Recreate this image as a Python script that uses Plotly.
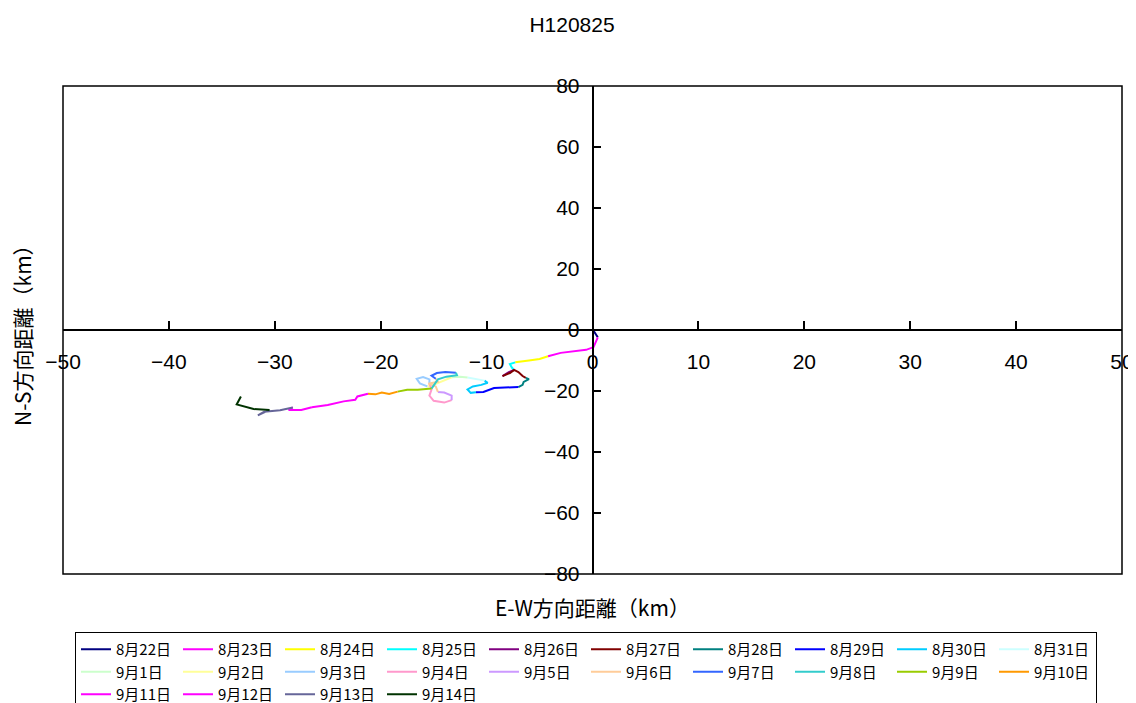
import plotly.graph_objects as go

days = ["8月22日", "8月23日", "8月24日", "8月25日", "8月26日", "8月27日", "8月28日", "8月29日",
        "8月30日", "8月31日", "9月1日", "9月2日", "9月3日", "9月4日", "9月5日", "9月6日",
        "9月7日", "9月8日", "9月9日", "9月10日", "9月11日", "9月12日", "9月13日", "9月14日"]

colors = ["#000080", "#FF00FF", "#FFFF00", "#00FFFF", "#800080", "#800000", "#008080", "#0000FF",
          "#00CCFF", "#CCFFFF", "#CCFFCC", "#FFFF99", "#99CCFF", "#FF99CC", "#CC99FF", "#FFCC99",
          "#3366FF", "#33CCCC", "#99CC00", "#FF9900", "#FF00FF", "#FF00FF", "#666699", "#003300"]

# daily E-W (km) positions
ew = [
    [0.0, 0.2, 0.5],
    [0.5, 0.3, 0.1, -0.6, -1.8, -3.0, -4.2],
    [-4.2, -5.0, -6.0, -7.3],
    [-7.3, -7.8, -7.6, -7.4],
    [-7.4, -7.9, -8.5],
    [-8.5, -7.8, -7.4, -7.0, -6.6, -6.3],
    [-6.3, -6.0, -6.5, -6.6, -7.0],
    [-7.0, -8.5, -9.3, -10.3, -11.0],
    [-11.0, -11.5, -11.8, -11.3, -10.5, -9.9, -10.2],
    [-10.2, -11.0, -11.8],
    [-11.8, -12.5, -13.3],
    [-13.3, -14.2, -15.0, -15.6],
    [-15.6, -16.3, -16.6, -16.0, -15.4, -15.4],
    [-15.4, -15.2, -15.4, -15.0, -14.0, -13.3],
    [-13.3, -13.3, -14.0, -14.6],
    [-14.6, -14.8, -15.5, -14.6, -14.8],
    [-14.8, -15.2, -14.7, -13.9, -12.9],
    [-12.9, -12.8, -13.8, -14.6, -15.2],
    [-15.2, -16.5, -17.5, -18.4],
    [-18.4, -19.2, -19.9, -20.5, -21.2],
    [-21.2, -22.2, -22.4, -23.5, -25.0, -26.5],
    [-26.5, -27.5, -28.7, -28.3],
    [-28.3, -29.5, -31.0, -31.6, -30.5],
    [-30.5, -32.0, -33.6, -33.2],
]
# daily N-S (km) positions
ns = [
    [0.0, -0.8, -2.4],
    [-2.4, -3.8, -5.6, -6.5, -7.1, -7.5, -8.6],
    [-8.6, -9.5, -10.0, -10.6],
    [-10.6, -11.2, -12.4, -13.1],
    [-13.1, -13.8, -15.1],
    [-15.1, -14.1, -13.1, -13.8, -15.1, -15.7],
    [-15.7, -16.1, -17.0, -18.0, -18.7],
    [-18.7, -18.8, -19.0, -20.3, -20.4],
    [-20.4, -20.6, -19.5, -18.5, -18.0, -17.3, -16.6],
    [-16.6, -16.0, -15.6],
    [-15.6, -15.3, -15.5],
    [-15.5, -16.8, -18.0, -18.5],
    [-18.5, -17.5, -16.0, -15.4, -16.2, -17.5],
    [-17.5, -19.5, -21.5, -23.2, -23.8, -23.0],
    [-23.0, -21.5, -20.5, -20.3],
    [-20.3, -18.5, -17.6, -17.0, -16.0],
    [-16.0, -15.0, -14.1, -13.8, -14.0],
    [-14.0, -14.8, -15.3, -16.2, -19.2],
    [-19.2, -19.6, -19.6, -20.2],
    [-20.2, -21.0, -20.5, -21.1, -20.9],
    [-20.9, -21.8, -22.9, -23.4, -24.6, -25.3],
    [-25.3, -26.2, -26.2, -25.4],
    [-25.4, -26.3, -26.8, -28.0, -26.2],
    [-26.2, -25.9, -24.4, -21.8],
]

font_main = "Liberation Sans, Arial, Noto Sans CJK JP, sans-serif"
font_jp = "Noto Sans CJK JP, Liberation Sans, sans-serif"

# the page body adds an 8px offset; the figure is sized to fill the rest
W, H = 1128, 695
ML, MR, MT, MB = 55, 14, 78, 129
PW, PH = W - ML - MR, H - MT - MB

fig = go.Figure()
for name, col, xs, ys in zip(days, colors, ew, ns):
    fig.add_trace(go.Scatter(x=xs, y=ys, mode="lines", name=name,
                             line=dict(color=col, width=2)))

fig.update_layout(
    width=W, height=H,
    paper_bgcolor="white", plot_bgcolor="white",
    margin=dict(l=ML, r=MR, t=MT, b=MB, autoexpand=False),
    title=dict(text="H120825", x=0.5, xanchor="center", y=1 - 17 / H, yanchor="middle",
               font=dict(family=font_main, size=21, color="black")),
    xaxis=dict(range=[-50, 50], dtick=10, anchor="free", position=0.5,
               showgrid=False, zeroline=False, showline=True, linecolor="black", linewidth=1.5,
               ticks="inside", ticklen=8, tickcolor="black", tickwidth=1.5,
               ticklabelstandoff=13,
               tickfont=dict(family=font_main, size=21, color="black")),
    yaxis=dict(range=[-80, 80], dtick=20, anchor="free", position=0.5,
               showgrid=False, zeroline=False, showline=True, linecolor="black", linewidth=1.5,
               ticks="inside", ticklen=8, tickcolor="black", tickwidth=1.5,
               ticklabelstandoff=8,
               tickfont=dict(family=font_main, size=21, color="black")),
    legend=dict(orientation="h", x=12 / PW, xanchor="left", y=-(624 - 566) / PH, yanchor="top",
                bordercolor="black", borderwidth=1, bgcolor="white",
                entrywidth=57, entrywidthmode="pixels", tracegroupgap=0,
                font=dict(family=font_jp, size=15, color="black")),
    showlegend=True,
)

fig.add_shape(type="rect", xref="paper", yref="paper", x0=0, x1=1, y0=0, y1=1,
              line=dict(color="black", width=1.5), layer="above")

fig.add_annotation(text="E-W方向距離（km）", xref="paper", yref="paper", x=0.5, y=-33 / PH,
                   xanchor="center", yanchor="middle", showarrow=False,
                   font=dict(family=font_jp, size=21, color="black"))
fig.add_annotation(text="N-S方向距離（km）", xref="paper", yref="paper", x=-41 / PW, y=0.5,
                   xanchor="center", yanchor="middle", showarrow=False, textangle=-90,
                   font=dict(family=font_jp, size=21, color="black"))

fig.write_html("out.html")
